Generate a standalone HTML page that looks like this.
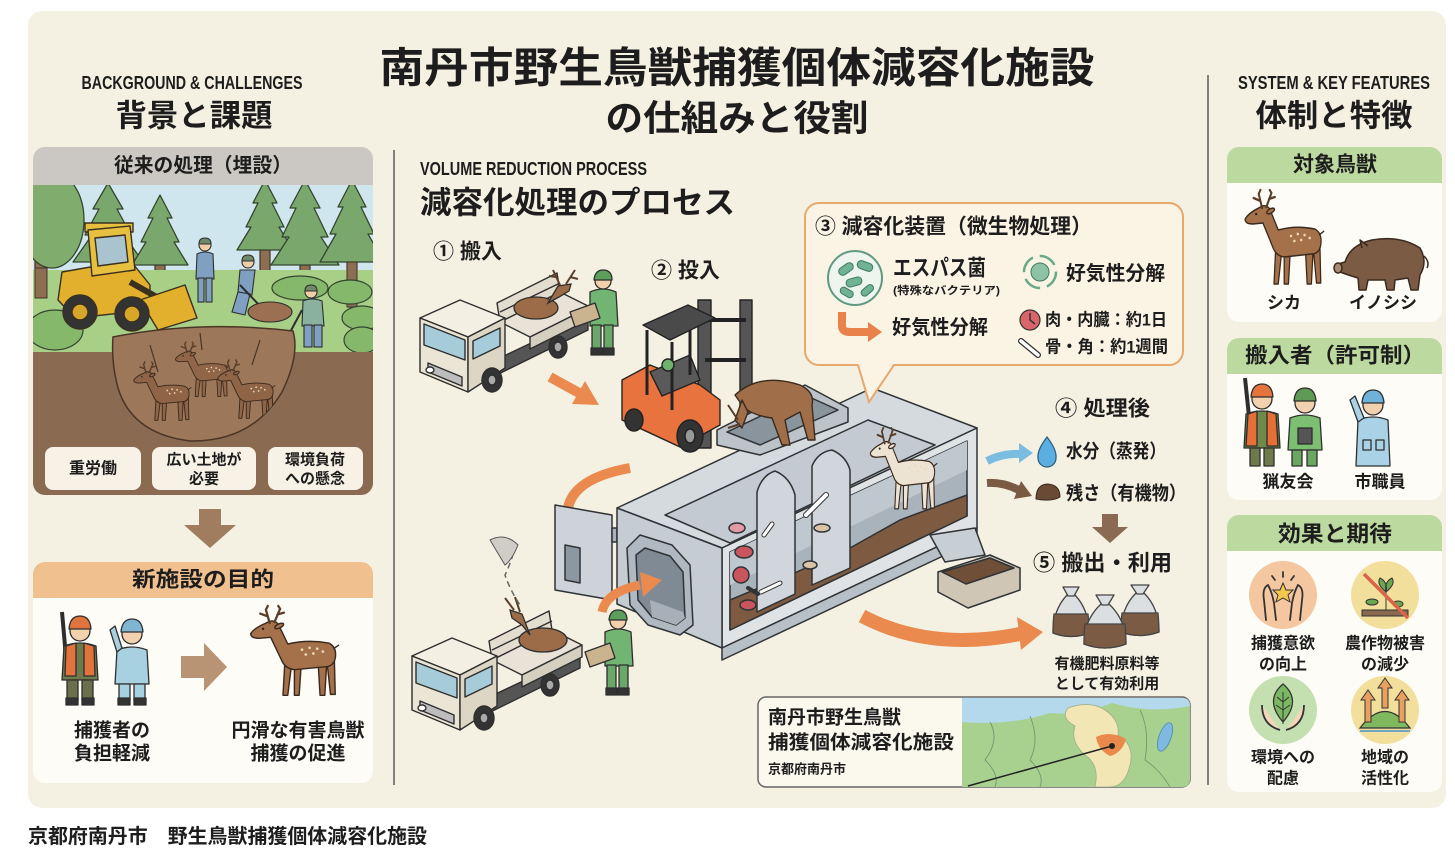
<!DOCTYPE html>
<html lang="ja"><head><meta charset="utf-8"><title>南丹市野生鳥獣捕獲個体減容化施設</title>
<style>
html,body{margin:0;padding:0;background:#fff;width:1455px;height:853px;overflow:hidden}
svg{display:block}
text{font-family:"Liberation Sans","Noto Sans CJK JP",sans-serif;font-weight:700;fill:#1d1d1d;dominant-baseline:central}
.en{font-family:"Liberation Sans",sans-serif;font-weight:700}
.m{text-anchor:middle}
</style></head><body>
<svg width="1455" height="853" viewBox="0 0 1455 853" xmlns="http://www.w3.org/2000/svg">
<defs>
 <g id="deer" stroke="#3a2a1e" stroke-width="1.5" stroke-linejoin="round">
  <path d="M42,58 L40,94 L45,94 L49,62 Z M52,62 L52,94 L57,94 L59,64 Z M77,60 L79,94 L84,94 L86,60 Z M86,56 L90,93 L95,93 L94,54 Z"/>
  <path d="M22,18 Q30,13 35,19 L45,40 Q66,35 88,39 Q97,43 95,55 Q93,64 84,64 L52,67 Q42,66 38,56 L27,33 L15,34 Q6,34 6,29 Q10,23 22,18 Z"/>
  <path d="M26,18 L22,4 M24,11 L16,8 M22,4 L24,0 M31,17 L37,3 M34,9 L41,7 M37,3 L35,0" fill="none" stroke="#5a3e2a" stroke-width="2.4" stroke-linecap="round"/>
  <ellipse cx="36" cy="21" rx="5" ry="2.2" transform="rotate(-25 36 21)"/>
  <circle cx="19" cy="24" r="1.3" fill="#222" stroke="none"/>
  <path d="M93,45 L99,41" fill="none"/>
  <g fill="#eed9b8" stroke="none"><circle cx="60" cy="46" r="1.4"/><circle cx="68" cy="44" r="1.4"/><circle cx="76" cy="45" r="1.4"/><circle cx="64" cy="51" r="1.4"/><circle cx="72" cy="50" r="1.4"/><circle cx="82" cy="48" r="1.4"/></g>
 </g>
 <g id="truck" stroke="#2e2e2e" stroke-width="1.4" stroke-linejoin="round">
  <polygon points="470,372 588,316 588,330 470,388" fill="#555"/>
  <polygon points="500,322 560,292 590,307 530,337" fill="#e8e3d6"/>
  <polygon points="530,337 590,307 590,319 530,349" fill="#d5cfbf"/>
  <polygon points="497,303 557,273 560,292 500,322" fill="#e3ddcf"/>
  <line x1="500" y1="312" x2="560" y2="283"/>
  <polygon points="420,318 460,300 505,318 468,337" fill="#f3efe3"/>
  <polygon points="420,318 468,337 468,392 420,372" fill="#ebe5d5"/>
  <polygon points="424,324 465,340 465,360 424,345" fill="#a6cbd9"/>
  <polygon points="428,363 462,377 462,386 428,372" fill="#bdbdbd"/>
  <polygon points="468,337 505,318 505,368 468,392" fill="#ddd6c4"/>
  <polygon points="473,341 500,328 500,346 473,359" fill="#a6cbd9"/>
  <ellipse cx="492" cy="380" rx="10" ry="12" fill="#333"/><ellipse cx="492" cy="380" rx="4" ry="5" fill="#aaa"/>
  <ellipse cx="558" cy="347" rx="9" ry="11" fill="#333"/><ellipse cx="558" cy="347" rx="4" ry="5" fill="#aaa"/>
  <ellipse cx="430" cy="370" rx="4" ry="3" fill="#fff"/>
 </g>
 <g id="worker" stroke="#2e2e2e" stroke-width="1.3" stroke-linejoin="round">
  <path d="M590,292 Q603,286 616,292 L618,326 L590,326 Z" fill="#72b573"/>
  <rect x="592" y="325" width="9" height="25" fill="#6aa86a"/><rect x="604" y="325" width="9" height="25" fill="#6aa86a"/>
  <rect x="591" y="348" width="11" height="7" fill="#333"/><rect x="603" y="348" width="11" height="7" fill="#333"/>
  <circle cx="603" cy="281" r="8" fill="#f2d0ab"/>
  <path d="M594,280 Q595,270 603,270 Q612,270 612,280 Z" fill="#5c9e5c"/>
  <polygon points="570,312 595,303 600,318 575,327" fill="#c9b48f"/>
 </g>
 <clipPath id="c1"><rect x="33" y="147" width="340" height="348" rx="12"/></clipPath>
 <clipPath id="c2"><rect x="33" y="562" width="340" height="221" rx="12"/></clipPath>
 <clipPath id="pitc"><path d="M113,337 Q200,320 293,331 Q300,355 282,392 Q252,442 190,441 Q132,434 118,388 Q111,362 113,337 Z"/></clipPath>
 <clipPath id="ra"><rect x="1227" y="147" width="215" height="175" rx="12"/></clipPath>
 <clipPath id="rb"><rect x="1227" y="338" width="215" height="162" rx="12"/></clipPath>
 <clipPath id="rc"><rect x="1227" y="515" width="215" height="277" rx="12"/></clipPath>
 <clipPath id="mapc"><path d="M962,698 L1182,698 Q1190,698 1190,706 L1190,779 Q1190,787 1182,787 L962,787 Z"/></clipPath>
</defs>

<!-- panel -->
<rect x="28" y="11" width="1418" height="797" rx="14" fill="#f5f1e2"/>
<text x="28" y="837" font-size="20" textLength="399" lengthAdjust="spacingAndGlyphs">京都府南丹市　野生鳥獣捕獲個体減容化施設</text>

<!-- dividers -->
<line x1="394" y1="150" x2="394" y2="785" stroke="#5a5a5a" stroke-width="1.5"/>
<line x1="1208" y1="75" x2="1208" y2="785" stroke="#5a5a5a" stroke-width="1.5"/>

<!-- titles -->
<text class="m" x="737" y="68" font-size="42" textLength="715" lengthAdjust="spacingAndGlyphs">南丹市野生鳥獣捕獲個体減容化施設</text>
<text class="m" x="737" y="118" font-size="36" textLength="263" lengthAdjust="spacingAndGlyphs">の仕組みと役割</text>

<!-- LEFT COLUMN -->
<text class="m en" x="192" y="83" font-size="18" textLength="221" lengthAdjust="spacingAndGlyphs">BACKGROUND &amp; CHALLENGES</text>
<text class="m" x="194" y="116" font-size="31" textLength="157" lengthAdjust="spacingAndGlyphs">背景と課題</text>

<g clip-path="url(#c1)">
 <rect x="33" y="147" width="340" height="348" fill="#cfe6ef"/>
 <g fill="#8d6e52" stroke="#3e3428" stroke-width="1.2">
  <rect x="35" y="240" width="12" height="115"/>
  <rect x="103" y="262" width="10" height="25"/><rect x="155" y="265" width="10" height="22"/>
  <rect x="260" y="250" width="10" height="35"/><rect x="300" y="265" width="10" height="35"/><rect x="347" y="262" width="10" height="45"/>
 </g>
 <g fill="#7aa86c" stroke="#34452f" stroke-width="1.3" stroke-linejoin="round">
  <ellipse cx="52" cy="220" rx="32" ry="48" fill="#80ac6e"/>
  <polygon points="108,183 123,209 117,209 131,235 124,235 143,262 73,262 92,235 85,235 99,209 93,209"/>
  <polygon points="160,195 172,218 167,218 179,242 174,242 188,265 132,265 146,242 141,242 153,218 148,218"/>
  <polygon points="265,180 277,203 272,203 284,227 279,227 293,250 237,250 251,227 246,227 258,203 253,203"/>
  <polygon points="305,180 320,208 314,208 328,237 321,237 339,265 271,265 289,237 282,237 296,208 290,208"/>
  <polygon points="352,180 366,207 361,207 374,234 368,234 384,262 320,262 336,234 330,234 343,207 338,207"/>
 </g>
 <rect x="33" y="270" width="340" height="90" fill="#a8cf86"/>
 <rect x="35" y="268" width="12" height="30" fill="#8d6e52" stroke="#3e3428"/>
 <rect x="347" y="262" width="10" height="45" fill="#8d6e52" stroke="#3e3428"/>
 <g fill="#86b86c" stroke="#34452f" stroke-width="1.2">
  <ellipse cx="55" cy="330" rx="28" ry="20"/>
  <ellipse cx="300" cy="288" rx="28" ry="12"/><ellipse cx="350" cy="292" rx="22" ry="12"/>
  <ellipse cx="362" cy="318" rx="20" ry="12"/><ellipse cx="362" cy="340" rx="18" ry="13"/>
 </g>
 <!-- bulldozer -->
 <g stroke="#3a3020" stroke-width="1.4" stroke-linejoin="round">
  <polygon points="62,272 130,260 150,285 150,310 75,318 58,300" fill="#e2b02c"/>
  <rect x="85" y="223" width="48" height="9" fill="#e8c040"/>
  <polygon points="88,230 130,226 135,270 92,276" fill="#e8c040"/>
  <polygon points="95,238 125,235 128,262 98,266" fill="#a9c3cf"/>
  <line x1="130" y1="282" x2="162" y2="300" stroke-width="6"/>
  <polygon points="140,300 185,285 197,318 158,330" fill="#e2b02c"/>
  <circle cx="80" cy="312" r="17" fill="#333"/><circle cx="80" cy="312" r="8" fill="#d8a628"/>
  <circle cx="132" cy="314" r="17" fill="#333"/><circle cx="132" cy="314" r="8" fill="#d8a628"/>
 </g>
 <!-- workers -->
 <g stroke="#2e2e2e" stroke-width="1.1">
  <path d="M197,254 Q205,250 213,254 L214,279 L196,279 Z" fill="#7fa0c0"/>
  <rect x="198" y="278" width="6" height="24" fill="#7fa0c0"/><rect x="206" y="278" width="6" height="24" fill="#7fa0c0"/>
  <circle cx="205" cy="245" r="6" fill="#f0cfa8"/><path d="M199,244 Q199,238 205,238 Q211,238 211,244 Z" fill="#6f8a6a"/>
  <polygon points="240,270 255,270 252,295 238,292" fill="#7fa0c0"/>
  <polygon points="238,292 250,294 245,315 232,312" fill="#7fa0c0"/>
  <line x1="240" y1="285" x2="262" y2="308" stroke-width="2"/>
  <circle cx="248" cy="262" r="6" fill="#f0cfa8"/><path d="M242,261 Q242,255 248,255 Q254,255 254,261 Z" fill="#6f8a6a"/>
  <ellipse cx="270" cy="312" rx="22" ry="10" fill="#9b6f50"/>
  <path d="M303,301 Q312,297 322,301 L324,326 L302,326 Z" fill="#8ab0a0"/>
  <rect x="304" y="325" width="8" height="22" fill="#7fa0c0"/><rect x="314" y="325" width="8" height="22" fill="#7fa0c0"/>
  <circle cx="311" cy="292" r="6" fill="#f0cfa8"/><path d="M305,291 Q305,285 311,285 Q317,285 317,291 Z" fill="#6f8a6a"/>
  <line x1="302" y1="310" x2="288" y2="336" stroke-width="2"/>
 </g>
 <!-- ground -->
 <rect x="33" y="352" width="340" height="150" fill="#8b6a52"/>
 <path d="M113,337 Q200,320 293,331 Q300,355 282,392 Q252,442 190,441 Q132,434 118,388 Q111,362 113,337 Z" fill="#9c7759" stroke="#4a3526" stroke-width="1.5"/>
 <g clip-path="url(#pitc)">
  <use href="#deer" transform="translate(130,362) scale(0.62)" fill="#8f6447"/>
  <use href="#deer" transform="translate(172,342) scale(0.58)" fill="#916648"/>
  <use href="#deer" transform="translate(214,360) scale(0.62)" fill="#8f6447"/>
  <path d="M150,345 L158,372 M260,340 L252,365 M200,333 L202,350" stroke="#4a3526" stroke-width="1.2"/>
 </g>
 <rect x="33" y="147" width="340" height="38" fill="#cbc8c3"/>
</g>
<text class="m" x="203" y="166" font-size="20" textLength="178" lengthAdjust="spacingAndGlyphs">従来の処理（埋設）</text>
<g fill="#f7f1e6">
 <rect x="45" y="447" width="96" height="43" rx="8"/>
 <rect x="152" y="447" width="104" height="43" rx="8"/>
 <rect x="268" y="447" width="95" height="43" rx="8"/>
</g>
<text class="m" x="93" y="469" font-size="16">重労働</text>
<text class="m" x="204" y="460" font-size="15">広い土地が</text>
<text class="m" x="204" y="479" font-size="15">必要</text>
<text class="m" x="315" y="460" font-size="15">環境負荷</text>
<text class="m" x="315" y="479" font-size="15">への懸念</text>

<!-- down arrow -->
<polygon points="199,509 221,509 221,525 236,525 210,548 184,525 199,525" fill="#a07d5f"/>

<!-- box 2 -->
<g clip-path="url(#c2)">
 <rect x="33" y="562" width="340" height="221" fill="#fdfcf7"/>
 <rect x="33" y="562" width="340" height="36" fill="#f1c08f"/>
</g>
<text class="m" x="203" y="580" font-size="21" textLength="142" lengthAdjust="spacingAndGlyphs">新施設の目的</text>
<!-- hunter -->
<g stroke="#2e2e2e" stroke-width="1.3" stroke-linejoin="round">
 <line x1="62" y1="612" x2="68" y2="680" stroke-width="4"/>
 <path d="M64,646 Q80,640 96,646 L98,680 L62,680 Z" fill="#6f7a4a"/>
 <path d="M66,646 L76,643 L76,676 L65,676 Z M84,643 L94,646 L95,676 L84,676 Z" fill="#e3733d"/>
 <rect x="67" y="680" width="11" height="20" fill="#6b6f4a"/><rect x="82" y="680" width="11" height="20" fill="#6b6f4a"/>
 <rect x="66" y="698" width="12" height="7" fill="#333"/><rect x="82" y="698" width="12" height="7" fill="#333"/>
 <circle cx="80" cy="631" r="10" fill="#f2d1ae"/>
 <path d="M69,629 Q70,616 80,616 Q90,616 91,629 Z" fill="#e0743f"/>
</g>
<!-- staff -->
<g stroke="#2e2e2e" stroke-width="1.3" stroke-linejoin="round">
 <path d="M117,650 Q132,644 147,650 L149,684 L115,684 Z" fill="#a7d0e0"/>
 <path d="M117,652 L110,630 L115,626 L122,648 Z" fill="#a7d0e0"/>
 <rect x="119" y="684" width="11" height="16" fill="#a7d0e0"/><rect x="134" y="684" width="11" height="16" fill="#a7d0e0"/>
 <rect x="118" y="698" width="12" height="7" fill="#333"/><rect x="134" y="698" width="12" height="7" fill="#333"/>
 <circle cx="132" cy="634" r="10" fill="#f2d1ae"/>
 <path d="M121,632 Q122,619 132,619 Q142,619 143,632 Z" fill="#7fb5d0"/>
</g>
<polygon points="181,656 204,656 204,643 227,667 204,691 204,678 181,678" fill="#b89474"/>
<use href="#deer" transform="translate(245,606) scale(0.95)" fill="#a4714b"/>
<text class="m" x="112" y="731" font-size="19">捕獲者の</text>
<text class="m" x="112" y="754" font-size="19">負担軽減</text>
<text class="m" x="298" y="731" font-size="19">円滑な有害鳥獣</text>
<text class="m" x="298" y="754" font-size="19">捕獲の促進</text>

<!-- MIDDLE -->
<text class="en" x="420" y="169" font-size="18" textLength="227" lengthAdjust="spacingAndGlyphs">VOLUME REDUCTION PROCESS</text>
<text x="420" y="203" font-size="31" textLength="315" lengthAdjust="spacingAndGlyphs">減容化処理のプロセス</text>
<text x="433" y="252" font-size="21">① 搬入</text>
<text x="651" y="271" font-size="21">② 投入</text>

<!-- truck 1 -->
<use href="#truck"/>
<g stroke="#2e2e2e" stroke-width="1.3">
 <ellipse cx="536" cy="308" rx="22" ry="11" fill="#9c6b48"/>
 <path d="M548,303 L558,286 L571,284 L569,291 L559,297 Z" fill="#9c6b48"/>
 <path d="M560,285 L553,270 M566,284 L575,270 M556,277 L549,276 M570,277 L578,279" fill="none" stroke="#5a3e2a" stroke-width="2"/>
</g>
<use href="#worker"/>
<!-- arrow 1 -->
<line x1="550" y1="377" x2="581" y2="394" stroke="#ea8a4f" stroke-width="10"/>
<polygon points="599,405 572,404 585,381" fill="#ea8a4f"/>

<!-- forklift -->
<g stroke="#222" stroke-width="1.4" stroke-linejoin="round">
 <rect x="698" y="300" width="13" height="148" fill="#555"/>
 <rect x="740" y="300" width="12" height="140" fill="#555"/>
 <line x1="705" y1="320" x2="746" y2="320" stroke-width="4"/>
 <line x1="705" y1="360" x2="746" y2="360" stroke-width="4"/>
 <polygon points="622,380 650,365 700,385 720,400 720,425 680,447 622,420" fill="#e8733e"/>
 <polygon points="650,372 690,355 700,380 662,396" fill="#5a5a5a"/>
 <line x1="647" y1="330" x2="647" y2="395" stroke-width="3"/>
 <line x1="672" y1="342" x2="672" y2="410" stroke-width="3"/>
 <line x1="690" y1="310" x2="690" y2="375" stroke-width="3"/>
 <polygon points="643,325 688,305 715,318 670,340" fill="#4a4a4a"/>
 <circle cx="668" cy="365" r="6" fill="#6fb36f"/>
 <ellipse cx="634" cy="420" rx="9" ry="11" fill="#333"/>
 <ellipse cx="690" cy="436" rx="13" ry="16" fill="#333"/><ellipse cx="690" cy="436" rx="5" ry="7" fill="#999"/>
</g>

<!-- curved arrow behind door -->
<path d="M568,508 Q574,478 630,468" fill="none" stroke="#ea8a4f" stroke-width="10"/>

<!-- machine -->
<g stroke="#2f3336" stroke-width="1.5" stroke-linejoin="round">
 <polygon points="555,505 612,515 612,600 555,590" fill="#cdd3d8"/>
 <polygon points="565,545 580,548 580,583 565,580" fill="#8c97a1"/>
 <rect x="612" y="528" width="5" height="14" fill="#aab2b9"/>
 <polygon points="617,508 872,388 977,428 722,548" fill="#d5dade"/>
 <polygon points="665,515 868,420 935,445 730,543" fill="#c3cad1"/>
 <polygon points="722,548 977,428 977,528 722,648" fill="#dfe3e6"/>
 <polygon points="730,552 967,441 967,516 730,630" fill="#a9b3bc"/>
 <polygon points="730,552 967,441 967,470 730,585" fill="#c0c8cf" stroke="none"/>
 <polygon points="730,600 790,575 850,548 900,520 967,495 967,516 730,630" fill="#7d5a40"/>
 <path d="M757,612 L757,492 Q762,475 775,471 Q790,477 795,495 L795,594 Z" fill="#d0d6db"/>
 <path d="M812,585 L812,466 Q818,452 832,450 Q846,456 850,470 L850,568 Z" fill="#d0d6db"/>
 <ellipse cx="737" cy="528" rx="8" ry="5" fill="#e39aa8"/>
 <ellipse cx="744" cy="552" rx="9" ry="6" fill="#c9565f"/>
 <ellipse cx="741" cy="575" rx="8" ry="8" fill="#c9565f"/>
 <ellipse cx="748" cy="605" rx="8" ry="5" fill="#c9565f"/>
 <ellipse cx="822" cy="528" rx="8" ry="4" fill="#d9c4a6"/>
 <ellipse cx="810" cy="565" rx="7" ry="4" fill="#d9c4a6"/>
 <line x1="761" y1="592" x2="780" y2="583" stroke="#333" stroke-width="5" stroke-linecap="round"/>
 <line x1="761" y1="592" x2="780" y2="583" stroke="#fff" stroke-width="3" stroke-linecap="round"/>
 <line x1="764" y1="535" x2="772" y2="524" stroke="#333" stroke-width="5" stroke-linecap="round"/>
 <line x1="764" y1="535" x2="772" y2="524" stroke="#fff" stroke-width="3" stroke-linecap="round"/>
 <line x1="806" y1="515" x2="826" y2="495" stroke="#333" stroke-width="6" stroke-linecap="round"/>
 <line x1="806" y1="515" x2="826" y2="495" stroke="#fff" stroke-width="4" stroke-linecap="round"/>
 <line x1="748" y1="588" x2="758" y2="594" stroke="#333" stroke-width="4" stroke-linecap="round"/>
 <polygon points="617,508 722,548 722,648 617,604" fill="#c5ccd2"/>
 <polygon points="640,535 672,545 690,565 693,625 680,635 648,625 630,605 627,548" fill="#b0b9c1"/>
 <polygon points="645,548 670,556 683,572 685,618 676,625 652,617 638,600 636,555" fill="#7f8a94"/>
 <polygon points="650,600 683,612 685,618 676,625 652,617" fill="#a7b0b8" stroke="none"/>
 <polygon points="722,648 977,528 977,540 722,660" fill="#b8c0c7"/>
 <polygon points="930,535 975,528 985,555 945,562" fill="#c7ced4"/>
 <polygon points="938,572 990,555 1020,568 1020,590 968,608 938,592" fill="#cfc6b5"/>
 <polygon points="942,572 990,558 1014,568 966,584" fill="#6f4f38"/>
</g>
<use href="#deer" transform="translate(866,428) scale(0.72,0.86)" fill="#ece3d3" stroke="#cbbba5"/>

<!-- hopper -->
<g stroke="#2f3336" stroke-width="1.5" stroke-linejoin="round">
 <polygon points="717,430 805,385 848,408 848,422 760,455 717,445" fill="#bcc3c9"/>
 <polygon points="727,432 805,395 838,410 760,445" fill="#8a949c"/>
</g>
<g stroke="#3a2a1e" stroke-width="1.4" stroke-linejoin="round">
 <path d="M735,395 Q760,372 800,385 Q815,392 812,405 L815,440 L808,440 L800,412 L785,420 L790,445 L782,445 L772,418 Q750,415 742,405 Z" fill="#a06f4a"/>
 <path d="M742,400 L735,420 L742,428 L748,412 Z" fill="#a06f4a"/>
 <path d="M738,420 L728,405 M740,424 L728,428" stroke="#5a3e2a" stroke-width="2" fill="none"/>
</g>

<!-- truck 2 -->
<use href="#truck" transform="translate(-8,338)"/>
<g stroke="#2e2e2e" stroke-width="1.3">
 <ellipse cx="543" cy="640" rx="24" ry="12" fill="#9c6b48"/>
 <path d="M530,635 L522,614 L510,610 L512,618 L522,625 Z" fill="#9c6b48"/>
 <path d="M520,612 L515,597 M514,610 L505,598" stroke="#5a3e2a" stroke-width="2" fill="none"/>
</g>
<path d="M495,540 Q510,535 515,548 Q510,565 505,575 Q510,590 520,605" fill="none" stroke="#666" stroke-width="1.5" stroke-dasharray="6 4"/>
<path d="M490,540 Q505,532 518,545 Q512,560 505,565 Z" fill="#cfcdc5" stroke="#555"/>
<use href="#worker" transform="translate(15,340)"/>
<path d="M602,612 Q606,592 640,585" fill="none" stroke="#ea8a4f" stroke-width="9"/>
<polygon points="662,580 640,572 643,597" fill="#ea8a4f"/>

<!-- big curve arrow -->
<path d="M862,616 Q930,652 1020,634" fill="none" stroke="#ea8a4f" stroke-width="14"/>
<polygon points="1043,632 1017,617 1021,650" fill="#ea8a4f"/>

<!-- bubble -->
<rect x="805" y="203" width="378" height="162" rx="14" fill="#fbf3e4" stroke="#e6a86c" stroke-width="2"/>
<polygon points="858,363 894,363 869,402" fill="#fbf3e4"/>
<path d="M858,365 L869,402 L894,365" fill="none" stroke="#e6a86c" stroke-width="2"/>
<text x="815" y="227" font-size="21" textLength="277" lengthAdjust="spacingAndGlyphs">③ 減容化装置（微生物処理）</text>
<circle cx="855" cy="278" r="27" fill="#eef4ee" stroke="#5f9a80" stroke-width="2"/>
<g fill="#6fb394" stroke="#3f7a60" stroke-width="1">
 <rect x="838" y="265" width="16" height="8" rx="4" transform="rotate(-35 846 269)"/>
 <rect x="857" y="262" width="16" height="8" rx="4" transform="rotate(20 865 266)"/>
 <rect x="846" y="278" width="16" height="8" rx="4" transform="rotate(-15 854 282)"/>
 <rect x="840" y="289" width="14" height="7" rx="3.5" transform="rotate(30 847 292)"/>
 <rect x="860" y="287" width="14" height="7" rx="3.5" transform="rotate(-40 867 290)"/>
</g>
<text x="893" y="268" font-size="22" textLength="93" lengthAdjust="spacingAndGlyphs">エスパス菌</text>
<text x="893" y="291" font-size="11" textLength="107" lengthAdjust="spacingAndGlyphs">(特殊なバクテリア)</text>
<circle cx="1040" cy="272" r="16" fill="none" stroke="#6aa98a" stroke-width="2.5" stroke-dasharray="18 7"/>
<circle cx="1040" cy="272" r="9" fill="#8cc3a5" stroke="#3f7a60"/>
<text x="1066" y="274" font-size="20" textLength="99" lengthAdjust="spacingAndGlyphs">好気性分解</text>
<path d="M842,312 L842,326 Q842,332 850,332 L870,332" fill="none" stroke="#e8824a" stroke-width="8"/>
<polygon points="882,332 868,322 868,342" fill="#e8824a"/>
<text x="892" y="328" font-size="20" textLength="96" lengthAdjust="spacingAndGlyphs">好気性分解</text>
<circle cx="1030" cy="320" r="10" fill="#d9646a" stroke="#333" stroke-width="1.2"/>
<path d="M1030,313 L1030,320 L1035,324" fill="none" stroke="#333" stroke-width="1.5"/>
<text x="1045" y="320" font-size="17" textLength="122" lengthAdjust="spacingAndGlyphs">肉・内臓：約1日</text>
<line x1="1021" y1="341" x2="1038" y2="355" stroke="#333" stroke-width="6" stroke-linecap="round"/>
<line x1="1021" y1="341" x2="1038" y2="355" stroke="#fff" stroke-width="3.5" stroke-linecap="round"/>
<text x="1045" y="347" font-size="17" textLength="123" lengthAdjust="spacingAndGlyphs">骨・角：約1週間</text>

<!-- after -->
<text x="1055" y="409" font-size="21" textLength="95" lengthAdjust="spacingAndGlyphs">④ 処理後</text>
<path d="M987,461 Q1003,453 1021,454" fill="none" stroke="#7bbde0" stroke-width="8"/>
<polygon points="1033,453 1019,443 1019,463" fill="#7bbde0"/>
<path d="M1047,437 Q1057,450 1056,458 A9,9 0 1 1 1038,458 Q1037,450 1047,437 Z" fill="#5aaee0" stroke="#2a5a80" stroke-width="1.2"/>
<text x="1066" y="452" font-size="19" textLength="100" lengthAdjust="spacingAndGlyphs">水分（蒸発）</text>
<path d="M987,483 Q1003,482 1019,490" fill="none" stroke="#7b5a44" stroke-width="8"/>
<polygon points="1032,496 1021,481 1014,499" fill="#7b5a44"/>
<path d="M1036,499 Q1036,484 1048,484 Q1060,485 1060,497 Q1052,502 1036,499 Z" fill="#6b4a35" stroke="#3a2a1e"/>
<text x="1066" y="494" font-size="19" textLength="120" lengthAdjust="spacingAndGlyphs">残さ（有機物）</text>
<polygon points="1102,514 1118,514 1118,527 1128,527 1110,543 1092,527 1102,527" fill="#8a6a52"/>
<text x="1033" y="563" font-size="22" textLength="139" lengthAdjust="spacingAndGlyphs">⑤ 搬出・利用</text>
<g stroke="#444" stroke-width="1.3" stroke-linejoin="round">
 <path d="M1067,595 Q1053,610 1053,633 Q1071,640 1089,633 Q1089,610 1075,595 Z" fill="#dcdfe2"/>
 <path d="M1054,614 L1088,614 Q1089,625 1089,633 Q1071,640 1053,633 Q1053,622 1054,614 Z" fill="#7b5b43"/>
 <path d="M1063,587 L1079,587 L1074,596 L1068,596 Z" fill="#dcdfe2"/>
 <path d="M1136,593 Q1121,608 1121,632 Q1140,639 1159,632 Q1159,608 1144,593 Z" fill="#dcdfe2"/>
 <path d="M1122,613 L1158,613 Q1159,624 1159,632 Q1140,639 1121,632 Q1121,621 1122,613 Z" fill="#7b5b43"/>
 <path d="M1131,585 L1149,585 L1143,594 L1137,594 Z" fill="#dcdfe2"/>
 <path d="M1101,604 Q1084,620 1084,644 Q1105,652 1126,644 Q1126,620 1109,604 Z" fill="#dcdfe2"/>
 <path d="M1085,624 L1125,624 Q1126,636 1126,644 Q1105,652 1084,644 Q1084,632 1085,624 Z" fill="#7b5b43"/>
 <path d="M1096,595 L1114,595 L1108,605 L1102,605 Z" fill="#dcdfe2"/>
</g>
<text class="m" x="1107" y="664" font-size="15">有機肥料原料等</text>
<text class="m" x="1107" y="684" font-size="15">として有効利用</text>

<!-- map box -->
<rect x="758" y="697" width="432" height="90" rx="8" fill="#fbf8ee" stroke="#666" stroke-width="1.5"/>
<g clip-path="url(#mapc)">
 <rect x="962" y="698" width="228" height="89" fill="#a8d08f"/>
 <path d="M962,698 L1190,698 L1190,706 Q1150,714 1112,703 Q1080,716 1050,713 Q1010,726 962,722 Z" fill="#b4d9ec"/>
 <path d="M1068,708 Q1090,700 1105,710 Q1120,720 1118,735 Q1135,745 1130,765 Q1125,787 1110,787 L1095,787 Q1100,765 1085,755 Q1070,742 1075,726 Q1060,718 1068,708 Z" fill="#f3e6b5" stroke="#9fb08a" stroke-width="0.8"/>
 <path d="M1096,737 Q1110,730 1126,739 Q1122,753 1110,756 Q1098,750 1096,737 Z" fill="#e98a4c"/>
 <ellipse cx="1165" cy="737" rx="6" ry="15" transform="rotate(20 1165 737)" fill="#7fb8e0" stroke="#4f88b0" stroke-width="0.8"/>
 <path d="M990,722 Q1000,740 985,760 Q1000,775 995,787 M1030,716 Q1040,740 1030,760 Q1045,775 1040,787 M1140,710 Q1150,730 1145,760 Q1160,770 1170,787" fill="none" stroke="#6f9a70" stroke-width="0.9"/>
</g>
<line x1="968" y1="786" x2="1112" y2="746" stroke="#222" stroke-width="1.5"/>
<circle cx="1112" cy="746" r="3" fill="#222"/>
<text x="768" y="718" font-size="19">南丹市野生鳥獣</text>
<text x="768" y="743" font-size="19" textLength="186" lengthAdjust="spacingAndGlyphs">捕獲個体減容化施設</text>
<text x="768" y="769" font-size="13">京都府南丹市</text>

<!-- RIGHT COLUMN -->
<text class="m en" x="1334" y="83" font-size="18" textLength="192" lengthAdjust="spacingAndGlyphs">SYSTEM &amp; KEY FEATURES</text>
<text class="m" x="1334" y="116" font-size="31" textLength="157" lengthAdjust="spacingAndGlyphs">体制と特徴</text>

<g clip-path="url(#ra)"><rect x="1227" y="147" width="215" height="175" fill="#fdfcf7"/><rect x="1227" y="147" width="215" height="36" fill="#bcd9a0"/></g>
<text class="m" x="1335" y="165" font-size="21">対象鳥獣</text>
<use href="#deer" transform="translate(1240,190) scale(0.85,1.0)" fill="#a4714b"/>
<g stroke="#3a2a1e" stroke-width="1.5" stroke-linejoin="round">
 <path d="M1345,262 Q1350,245 1372,240 Q1400,235 1420,248 Q1428,262 1420,275 L1418,290 L1411,290 L1408,278 L1395,280 L1394,290 L1387,290 L1385,280 L1368,280 L1366,290 L1359,290 L1358,278 Q1348,275 1340,272 Q1335,268 1338,264 Z" fill="#7c5b45"/>
 <ellipse cx="1338" cy="268" rx="4" ry="5" fill="#a88a76"/>
 <path d="M1362,248 L1360,240 L1368,246" fill="#7c5b45"/>
 <path d="M1424,256 Q1430,262 1427,268" fill="none"/>
</g>
<text class="m" x="1284" y="303" font-size="17">シカ</text>
<text class="m" x="1383" y="303" font-size="17">イノシシ</text>

<g clip-path="url(#rb)"><rect x="1227" y="338" width="215" height="162" fill="#fdfcf7"/><rect x="1227" y="338" width="215" height="36" fill="#bcd9a0"/></g>
<text class="m" x="1335" y="356" font-size="21" textLength="180" lengthAdjust="spacingAndGlyphs">搬入者（許可制）</text>
<g stroke="#2e2e2e" stroke-width="1.3" stroke-linejoin="round">
 <line x1="1245" y1="378" x2="1252" y2="445" stroke-width="4"/>
 <path d="M1246,414 Q1262,408 1278,414 L1280,448 L1244,448 Z" fill="#6f8a4a"/>
 <path d="M1248,414 L1257,411 L1257,446 L1246,446 Z M1267,411 L1276,414 L1278,446 L1267,446 Z" fill="#e56f35"/>
 <rect x="1250" y="448" width="10" height="18" fill="#6f7a4a"/><rect x="1264" y="448" width="10" height="18" fill="#6f7a4a"/>
 <circle cx="1262" cy="399" r="10" fill="#f2d1ae"/>
 <path d="M1251,397 Q1252,384 1262,384 Q1272,384 1273,397 Z" fill="#e5733c"/>
 <path d="M1290,418 Q1305,412 1320,418 L1322,450 L1288,450 Z" fill="#7cbf72"/>
 <rect x="1292" y="450" width="10" height="16" fill="#6aa862"/><rect x="1307" y="450" width="10" height="16" fill="#6aa862"/>
 <rect x="1298" y="428" width="14" height="16" fill="#555"/>
 <circle cx="1305" cy="403" r="10" fill="#f2d1ae"/>
 <path d="M1294,401 Q1295,388 1305,388 Q1315,388 1316,401 Z" fill="#5f9a56"/>
 <path d="M1358,420 Q1373,414 1388,420 L1390,466 L1356,466 Z" fill="#a9d2e6"/>
 <path d="M1358,422 L1350,400 L1355,396 L1364,418 Z" fill="#a9d2e6"/>
 <rect x="1363" y="440" width="8" height="10" fill="none"/><rect x="1376" y="440" width="8" height="10" fill="none"/>
 <circle cx="1373" cy="405" r="10" fill="#f2d1ae"/>
 <path d="M1362,403 Q1363,390 1373,390 Q1383,390 1384,403 Z" fill="#6fb1d9"/>
</g>
<text class="m" x="1288" y="482" font-size="17">猟友会</text>
<text class="m" x="1380" y="482" font-size="17">市職員</text>

<g clip-path="url(#rc)"><rect x="1227" y="515" width="215" height="277" fill="#fdfcf7"/><rect x="1227" y="515" width="215" height="36" fill="#bcd9a0"/></g>
<text class="m" x="1335" y="534" font-size="22" textLength="114" lengthAdjust="spacingAndGlyphs">効果と期待</text>
<circle cx="1283" cy="595" r="34" fill="#f5c7a0"/>
<g stroke="#333" stroke-width="1.8" fill="none" stroke-linecap="round">
 <path d="M1266,620 L1264,600 Q1262,588 1268,585 Q1272,592 1274,603 L1276,620"/>
 <path d="M1300,620 L1302,600 Q1304,588 1298,585 Q1294,592 1292,603 L1290,620"/>
 <path d="M1283,572 L1283,577 M1272,576 L1275,580 M1294,576 L1291,580"/>
</g>
<polygon points="1283,583 1286,590 1293,590 1288,595 1290,602 1283,598 1276,602 1278,595 1273,590 1280,590" fill="#f2c94c" stroke="#333" stroke-width="1"/>
<circle cx="1385" cy="595" r="34" fill="#f3df9c"/>
<rect x="1362" y="610" width="46" height="6" fill="#8a6a4e" stroke="#333" stroke-width="1"/>
<g fill="#6aa84f" stroke="#333" stroke-width="1">
 <path d="M1386,610 L1386,590 M1386,592 Q1376,584 1380,578 Q1388,582 1386,592 Z M1386,592 Q1396,584 1392,578 Q1384,582 1386,592 Z"/>
 <ellipse cx="1372" cy="602" rx="6" ry="3"/><ellipse cx="1398" cy="604" rx="5" ry="3"/>
</g>
<line x1="1364" y1="574" x2="1408" y2="618" stroke="#d9644a" stroke-width="3.5"/>
<circle cx="1283" cy="710" r="34" fill="#c5e0b0"/>
<path d="M1283,684 Q1302,700 1283,722 Q1264,700 1283,684 Z" fill="#7cb864" stroke="#333" stroke-width="1.3"/>
<path d="M1283,692 L1283,724 M1283,702 L1277,697 M1283,702 L1289,697 M1283,710 L1276,705 M1283,710 L1290,705" stroke="#333" stroke-width="1" fill="none"/>
<path d="M1262,705 Q1262,725 1280,730 M1304,705 Q1304,725 1286,730" stroke="#333" stroke-width="1.8" fill="#f3d5b8"/>
<circle cx="1385" cy="710" r="34" fill="#f3df9c"/>
<path d="M1360,728 Q1385,695 1410,728 Z" fill="#7fb85e" stroke="#333" stroke-width="1.2"/>
<line x1="1360" y1="731" x2="1410" y2="731" stroke="#6fa6c8" stroke-width="2"/>
<g fill="#e8a060" stroke="#333" stroke-width="1">
 <polygon points="1365,722 1365,700 1361,700 1368,690 1375,700 1371,700 1371,722"/>
 <polygon points="1382,708 1382,688 1378,688 1385,678 1392,688 1388,688 1388,708"/>
 <polygon points="1399,722 1399,700 1395,700 1402,690 1409,700 1405,700 1405,722"/>
</g>
<text class="m" x="1283" y="644" font-size="16">捕獲意欲</text>
<text class="m" x="1283" y="665" font-size="16">の向上</text>
<text class="m" x="1385" y="644" font-size="16">農作物被害</text>
<text class="m" x="1385" y="665" font-size="16">の減少</text>
<text class="m" x="1283" y="758" font-size="16">環境への</text>
<text class="m" x="1283" y="779" font-size="16">配慮</text>
<text class="m" x="1385" y="758" font-size="16">地域の</text>
<text class="m" x="1385" y="779" font-size="16">活性化</text>
</svg>
</body></html>
